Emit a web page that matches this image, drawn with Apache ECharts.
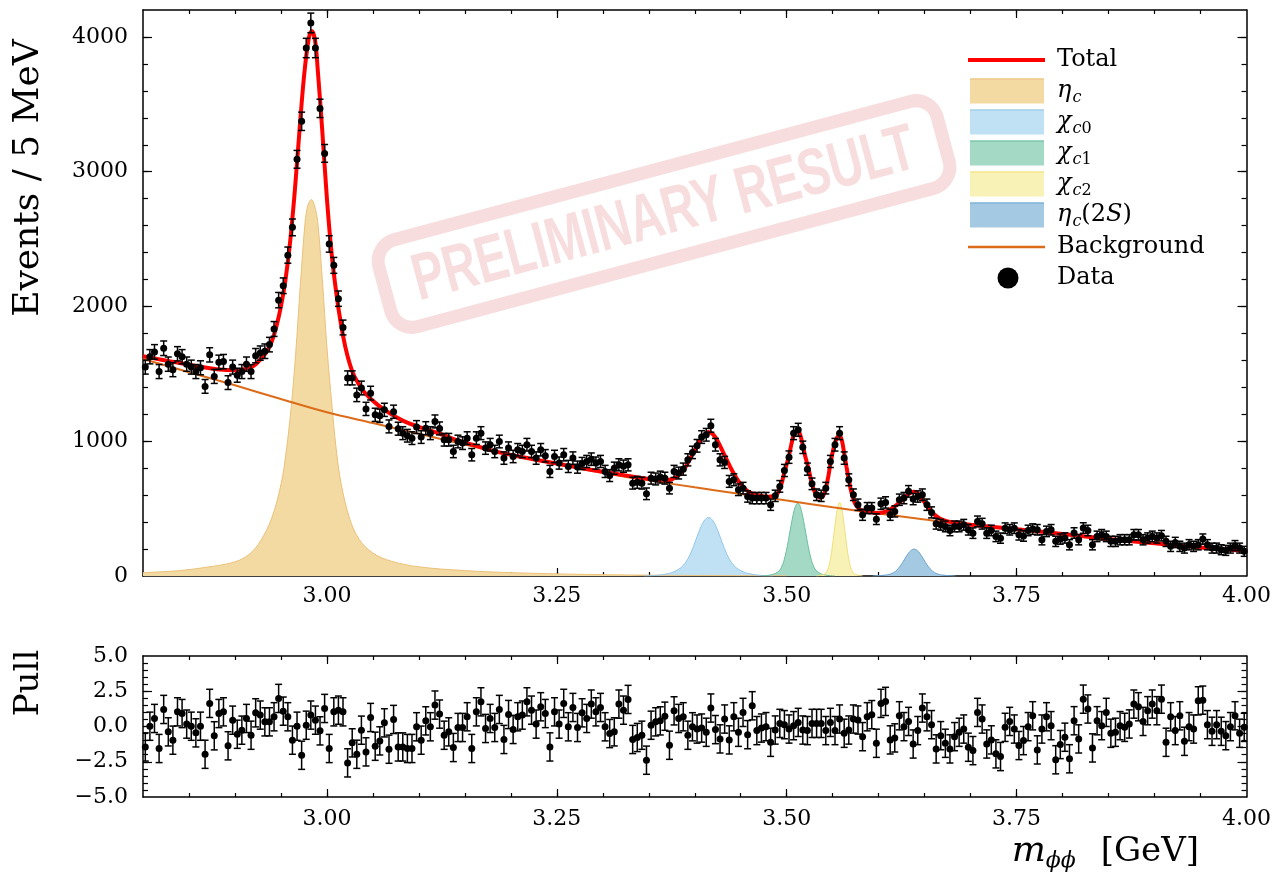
<!DOCTYPE html>
<html>
<head>
<meta charset="utf-8">
<script src="https://cdn.jsdelivr.net/npm/echarts@6/dist/echarts.min.js"></script>
<style>
  html, body { margin: 0; padding: 0; background: #fff; }
  #chart { width: 1274px; height: 877px; }
</style>
</head>
<body>
<div id="chart"></div>
<script>
// Histogram binning: 5 MeV bins from 2.80 GeV
const binStart = 2.80;
const binWidth = 0.005;

// Events per bin
const counts = [
  1550,1627,1663,1517,1690,1572,1531,1649,1627,1572,
  1550,1517,1545,1407,1641,1481,1586,1591,1435,1550,
  1490,1517,1572,1517,1635,1654,1668,1717,1833,2047,
  2154,2381,2587,3092,3374,3918,4104,3918,3470,3136,
  2464,2305,2058,1844,1470,1470,1344,1395,1240,1357,
  1196,1189,1233,1110,1219,1093,1060,1041,1023,1105,
  1031,1097,1060,1147,1095,1011,1011,924,998,986,
  1023,900,1023,1060,949,974,924,998,875,949,
  887,937,924,974,924,875,937,892,776,887,
  838,900,813,875,808,835,850,867,838,850,
  776,745,800,825,815,825,689,695,689,610,
  726,720,734,726,652,776,764,793,862,917,
  966,1031,1048,1115,974,862,843,702,714,640,
  652,590,578,578,578,578,529,595,665,783,
  882,1060,1085,955,793,684,603,595,652,850,
  974,1060,875,714,603,529,454,504,504,422,
  536,546,454,479,566,578,628,571,590,603,
  529,472,388,380,368,338,368,368,380,343,
  318,405,388,318,338,294,281,355,343,355,
  306,297,338,348,343,269,331,343,257,274,
  282,232,319,269,356,338,232,294,306,294,
  257,257,269,269,269,306,306,269,282,294,
  282,299,257,220,249,220,207,232,220,232,
  274,232,207,207,195,190,207,225,207,183
];

// Uncertainty on each bin
const countErr = [
  52,53,54,52,54,53,52,53,53,53,
  52,52,52,51,53,52,53,53,51,52,
  52,52,53,52,53,53,54,54,55,57,
  58,60,62,66,68,72,73,72,68,66,
  61,59,57,55,52,52,50,51,49,51,
  49,49,49,48,49,48,48,47,47,48,
  47,48,48,48,48,47,47,46,47,47,
  47,46,47,48,46,47,46,47,46,46,
  46,46,46,47,46,46,46,46,45,46,
  45,46,45,46,45,45,45,46,45,45,
  45,44,45,45,45,45,44,44,44,43,
  44,44,44,44,43,45,44,45,45,46,
  47,47,47,48,47,45,45,44,44,43,
  43,42,42,42,42,42,42,42,43,45,
  46,48,48,46,45,43,43,42,43,45,
  47,48,46,44,43,42,41,41,41,40,
  42,42,41,41,42,42,43,42,42,43,
  42,41,40,40,40,39,40,40,40,39,
  39,40,40,39,39,39,38,39,39,39,
  39,39,39,39,39,38,39,39,38,38,
  38,38,39,38,39,39,38,39,39,39,
  38,38,38,38,38,39,39,38,38,39,
  38,39,38,38,38,38,37,38,38,38,
  38,38,37,37,37,37,37,38,37,37
];

// Pull of each bin relative to the total fit
const pulls = [
  -1.45,0.02,0.57,-1.56,1.21,-0.38,-0.97,1.04,0.92,0.17,
  0.02,-0.45,0.02,-1.97,1.64,-0.66,0.92,1.04,-1.37,0.45,
  -0.55,-0.26,0.57,-0.62,0.97,0.81,0.33,0.33,0.69,1.99,
  1.09,0.69,-0.97,0.02,-2.04,0.09,0.81,0.45,-0.31,1.28,
  -1.56,1.04,1.16,1.04,-2.58,-1.16,-1.97,-0.26,-1.80,0.64,
  -1.40,-1.02,0.26,-1.61,0.50,-1.45,-1.45,-1.56,-1.56,-0.02,
  -0.97,0.40,-0.02,1.52,0.88,-0.62,-0.38,-1.49,-0.07,-0.07,
  0.69,-1.56,1.04,1.75,-0.14,0.57,-0.07,1.21,-0.92,0.85,
  -0.21,0.69,0.81,1.75,1.16,0.17,1.40,0.92,-1.45,1.04,
  0.17,1.64,-0.02,1.35,-0.07,0.97,0.57,1.59,1.04,1.35,
  -0.02,-0.50,-0.38,1.59,1.16,1.92,-0.92,-0.78,-0.62,-2.39,
  0.09,0.33,0.40,0.73,-1.33,1.11,0.57,0.69,-0.62,-0.02,
  -0.18,-0.11,-0.41,1.31,-0.22,-0.88,0.53,-0.95,0.69,-0.41,
  1.00,-0.58,1.47,-0.29,-0.11,-0.01,-1.12,-0.25,0.22,0.13,
  -0.18,0.06,0.29,-0.25,-0.29,0.22,0.22,0.22,-0.29,0.29,
  -0.29,0.53,-0.48,-0.25,0.53,0.46,-0.72,0.69,0.84,-1.19,
  1.64,1.78,-0.95,-0.81,0.76,-0.01,0.36,-1.24,-0.29,1.31,
  0.69,0.13,-1.59,-0.65,-1.19,-1.59,-0.72,-0.41,-0.18,-1.47,
  -1.71,1.00,0.53,-1.24,-0.95,-1.94,-2.13,-0.06,0.36,-0.18,
  -1.35,-1.00,-0.01,0.76,-1.66,-0.18,0.69,0.06,-2.36,-1.28,
  -0.76,-2.29,0.41,-0.88,1.94,1.24,-1.52,0.41,0.06,1.00,
  -0.48,-0.41,0.06,-0.06,0.18,1.59,1.40,0.36,1.12,1.59,
  1.12,1.94,-1.12,0.69,-0.29,0.76,-1.05,-0.01,-0.18,1.82,
  1.87,0.13,-0.34,0.13,-0.34,-0.65,-0.01,0.76,-0.48,-0.06
];

// Fit curves: [mass (GeV), events / 5 MeV]
const totalFit = [
  [2.80,1630],[2.82,1605],[2.84,1580],[2.86,1555],[2.88,1535],[2.90,1527],[2.91,1535],
  [2.92,1558],[2.93,1625],[2.935,1670],[2.94,1740],[2.945,1850],[2.95,2000],[2.955,2200],
  [2.96,2480],[2.965,2850],[2.97,3290],[2.975,3700],[2.98,3980],[2.9835,4045],[2.987,3980],
  [2.99,3760],[2.995,3300],[3.00,2800],[3.005,2400],[3.01,2110],[3.015,1880],[3.02,1700],
  [3.025,1570],[3.03,1480],[3.04,1370],[3.05,1300],[3.06,1245],[3.075,1180],[3.09,1130],
  [3.1075,1090],[3.125,1050],[3.14,1010],[3.16,970],[3.18,930],[3.21,885],[3.25,835],
  [3.285,790],[3.32,752],[3.35,720],[3.37,712],[3.375,718],[3.38,735],[3.385,765],[3.39,810],
  [3.395,870],[3.40,935],[3.405,995],[3.41,1045],[3.415,1068],[3.42,1050],[3.425,1000],
  [3.43,930],[3.435,860],[3.44,790],[3.445,730],[3.45,680],[3.455,645],[3.46,620],[3.47,598],
  [3.48,588],[3.485,592],[3.49,612],[3.4925,650],[3.495,700],[3.4975,770],[3.50,830],
  [3.5025,895],[3.505,975],[3.5075,1045],[3.51,1075],[3.5125,1075],[3.515,1040],[3.5175,970],
  [3.52,890],[3.5225,830],[3.525,760],[3.5275,680],[3.53,630],[3.5325,598],[3.535,585],
  [3.5375,582],[3.54,600],[3.5425,650],[3.545,730],[3.5475,830],[3.55,920],[3.5525,990],
  [3.555,1030],[3.5575,1040],[3.56,1005],[3.5625,910],[3.565,810],[3.5675,715],[3.57,630],
  [3.5725,570],[3.575,530],[3.58,492],[3.59,474],[3.60,468],[3.605,472],[3.61,485],[3.615,505],
  [3.62,530],[3.625,560],[3.63,595],[3.635,618],[3.6385,625],[3.642,615],[3.647,575],
  [3.652,525],[3.657,480],[3.662,448],[3.667,425],[3.675,405],[3.69,390],[3.70,380],
  [3.75,347],[3.80,312],[3.85,275],[3.90,243],[3.95,212],[4.00,185]
];
const bkgFit = [
  [2.80,1610],[2.85,1512],[2.90,1415],[2.95,1313],[3.00,1215],[3.05,1135],[3.10,1055],
  [3.15,975],[3.20,900],[3.25,830],[3.30,765],[3.35,710],[3.40,658],[3.45,608],[3.50,560],
  [3.55,510],[3.60,463],[3.65,420],[3.70,378],[3.75,345],[3.80,310],[3.85,274],[3.90,243],
  [3.95,212],[4.00,184]
];
const etaC = [
  [2.80,25],[2.84,40],[2.87,66],[2.89,88],[2.905,118],[2.917,170],[2.928,262],[2.94,430],
  [2.9504,690],[2.956,940],[2.9612,1256],[2.966,1650],[2.971,2150],[2.9763,2628],[2.9795,2755],
  [2.9832,2793],[2.9865,2750],[2.990,2628],[2.995,2200],[3.000,1700],[3.0056,1256],[3.010,950],
  [3.0153,690],[3.025,420],[3.0353,270],[3.05,170],[3.07,110],[3.10,68],[3.15,40],[3.20,25],
  [3.28,12],[3.38,5],[3.50,2]
];
const chiC0 = [
  [3.345,0],[3.355,3],[3.36,6],[3.365,10],[3.37,16],[3.375,25],[3.38,40],[3.385,62],[3.39,100],
  [3.395,160],[3.40,245],[3.405,337],[3.41,408],[3.415,435],[3.42,408],[3.425,337],[3.43,245],
  [3.435,160],[3.44,100],[3.445,62],[3.45,40],[3.455,25],[3.46,16],[3.465,10],[3.47,6],
  [3.475,3],[3.485,0]
];
const chiC1 = [
  [3.472,0],[3.478,3],[3.482,7],[3.487,17],[3.492,40],[3.4945,68],[3.497,114],[3.4995,183],
  [3.502,271],[3.5045,367],[3.507,455],[3.5095,518],[3.512,541],[3.5145,518],[3.517,455],
  [3.5195,367],[3.522,271],[3.5245,183],[3.527,114],[3.5295,68],[3.532,40],[3.537,17],
  [3.542,7],[3.546,3],[3.552,0]
];
const chiC2 = [
  [3.5325,0],[3.5355,3],[3.5385,8],[3.5415,16],[3.5435,32],[3.5455,64],[3.5475,123],[3.5495,211],
  [3.5515,320],[3.5535,430],[3.5555,514],[3.5575,546],[3.5595,514],[3.5615,430],[3.5635,320],
  [3.5655,211],[3.5675,123],[3.5695,64],[3.5715,32],[3.5735,16],[3.5765,8],[3.5795,3],[3.5825,0]
];
const etaC2S = [
  [3.5935,0],[3.5985,2],[3.6035,4],[3.6085,8],[3.6135,16],[3.6185,36],[3.6235,74],[3.6285,128],
  [3.6335,179],[3.6385,200],[3.6435,179],[3.6485,128],[3.6535,74],[3.6585,36],[3.6635,16],
  [3.6685,8],[3.6735,4],[3.6785,2],[3.6835,0]
];

// Axis ticks and labels
const xLabels = [3.00, 3.25, 3.50, 3.75, 4.00];
const xMajorTicks = [3.00, 3.25, 3.50, 3.75];
const xMinorTicks = [2.85,2.90,2.95,3.00,3.05,3.10,3.15,3.20,3.25,3.30,3.35,3.40,3.45,3.50,3.55,3.60,3.65,3.70,3.75,3.80,3.85,3.90,3.95];
const yLabels = [0, 1000, 2000, 3000, 4000];
const yMajorTicks = [1000, 2000, 3000, 4000];
const yMinorTicks = [200,400,600,800,1000,1200,1400,1600,1800,2000,2200,2400,2600,2800,3000,3200,3400,3600,3800,4000];
const pullLabels = [-5, -2.5, 0, 2.5, 5];
const pullMajorTicks = [-2.5, 0, 2.5];
const pullMinorTicks = [-4.5,-4,-3.5,-3,-2.5,-2,-1.5,-1,-0.5,0,0.5,1,1.5,2,2.5,3,3.5,4,4.5];

const FONT = 'DejaVu Serif';
const COLORS = {
  total: '#ff0000',
  bkg: '#dc6c1a',
  etaC: ['#f3d9a2', '#eac27a'],
  chiC0: ['#c0e0f4', '#92c6ea'],
  chiC1: ['#a3d9c5', '#6cbf9f'],
  chiC2: ['#f9f2b7', '#eedf78'],
  etaC2S: ['#a4c9e2', '#6ea7cf']
};

// Build point and error-bar tables from the bins
const dataPoints = counts.map((v, i) => [binStart + binWidth * (i + 0.5), v]);
const dataBars = counts.map((v, i) => [binStart + binWidth * (i + 0.5), v - countErr[i], v + countErr[i]]);
const pullPoints = pulls.map((v, i) => [binStart + binWidth * (i + 0.5), v]);
const pullBars = pulls.map((v, i) => [binStart + binWidth * (i + 0.5), v - 1, v + 1]);

function xAxisDef(grid, pos, ticks, len, labels, line) {
  return {
    type: 'value', gridIndex: grid, position: pos, min: 2.8, max: 4.0,
    axisLine: { show: line, onZero: false, lineStyle: { color: '#000', width: 1.5 } },
    axisTick: { show: true, inside: true, length: len, customValues: ticks, lineStyle: { color: '#000', width: 1.2 } },
    axisLabel: labels ? {
      show: true, customValues: labels, formatter: v => v.toFixed(2),
      margin: grid === 0 ? 9 : 11, color: '#000', fontFamily: FONT, fontSize: 22
    } : { show: false },
    splitLine: { show: false }
  };
}
function yAxisDef(grid, pos, min, max, ticks, len, labels, fmt, line) {
  return {
    type: 'value', gridIndex: grid, position: pos, min: min, max: max,
    axisLine: { show: line, onZero: false, lineStyle: { color: '#000', width: 1.5 } },
    axisTick: { show: true, inside: true, length: len, customValues: ticks, lineStyle: { color: '#000', width: 1.2 } },
    axisLabel: labels ? {
      show: true, customValues: labels, formatter: fmt,
      margin: 15, color: '#000', fontFamily: FONT, fontSize: 22
    } : { show: false },
    splitLine: { show: false }
  };
}

function errorBarRenderer(capHalf) {
  return function (params, api) {
    const x = api.value(0);
    const p0 = api.coord([x, api.value(1)]);
    const p1 = api.coord([x, api.value(2)]);
    const style = { stroke: '#000', lineWidth: 1.5 };
    return {
      type: 'group',
      children: [
        { type: 'line', shape: { x1: p0[0], y1: p0[1], x2: p1[0], y2: p1[1] }, style: style },
        { type: 'line', shape: { x1: p0[0] - capHalf, y1: p0[1], x2: p0[0] + capHalf, y2: p0[1] }, style: style },
        { type: 'line', shape: { x1: p1[0] - capHalf, y1: p1[1], x2: p1[0] + capHalf, y2: p1[1] }, style: style }
      ]
    };
  };
}

function component(name, points, colors) {
  return {
    name: name, type: 'line', xAxisIndex: 0, yAxisIndex: 0, data: points,
    smooth: 0.35, symbol: 'none', z: 1, silent: true,
    lineStyle: { color: colors[1], width: 1 },
    itemStyle: { color: colors[0] },
    areaStyle: { color: colors[0], opacity: 1 }
  };
}

// Legend rows, drawn as graphic elements
const RICH = {
  g: { fontFamily: FONT, fontStyle: 'italic', fontSize: 24, lineHeight: 31 },
  n: { fontFamily: FONT, fontSize: 24, lineHeight: 31 },
  s: { fontFamily: FONT, fontStyle: 'italic', fontSize: 16, lineHeight: 17, padding: [14, 0, 0, 1], verticalAlign: 'top' },
  r: { fontFamily: FONT, fontSize: 16, lineHeight: 17, padding: [14, 0, 0, 0], verticalAlign: 'top' }
};
const legendRows = [
  { y: 60, label: '{n|Total}', icon: 'line', color: COLORS.total, width: 4 },
  { y: 91, label: '{g|η}{s|c}', icon: 'box', colors: COLORS.etaC },
  { y: 122, label: '{g|χ}{s|c}{r|0}', icon: 'box', colors: COLORS.chiC0 },
  { y: 153, label: '{g|χ}{s|c}{r|1}', icon: 'box', colors: COLORS.chiC1 },
  { y: 184, label: '{g|χ}{s|c}{r|2}', icon: 'box', colors: COLORS.chiC2 },
  { y: 215, label: '{g|η}{s|c}{n|(2}{g|S}{n|)}', icon: 'box', colors: COLORS.etaC2S },
  { y: 247, label: '{n|Background}', icon: 'line', color: COLORS.bkg, width: 2.5 },
  { y: 278, label: '{n|Data}', icon: 'dot', color: '#000' }
];
const legendGraphics = [];
legendRows.forEach(row => {
  if (row.icon === 'line') {
    legendGraphics.push({ type: 'line', silent: true, shape: { x1: 968, y1: row.y, x2: 1045, y2: row.y },
      style: { stroke: row.color, lineWidth: row.width } });
  } else if (row.icon === 'box') {
    legendGraphics.push({ type: 'rect', silent: true, shape: { x: 970, y: row.y - 12.5, width: 74, height: 25 },
      style: { fill: row.colors[0] } });
    legendGraphics.push({ type: 'line', silent: true, shape: { x1: 970, y1: row.y - 12, x2: 1044, y2: row.y - 12 },
      style: { stroke: row.colors[1], lineWidth: 1.2 } });
  } else {
    legendGraphics.push({ type: 'circle', silent: true, shape: { cx: 1008, cy: row.y, r: 10.5 },
      style: { fill: row.color } });
  }
  legendGraphics.push({ type: 'text', silent: true, x: 1057, y: row.y,
    style: { text: row.label, rich: RICH, fill: '#000', align: 'left', verticalAlign: 'middle' } });
});

const chart = echarts.init(document.getElementById('chart'), null, { renderer: 'canvas' });
chart.setOption({
  animation: false,
  backgroundColor: '#fff',
  grid: [
    { left: 143, top: 10, width: 1107, height: 566 },
    { left: 143, top: 656, width: 1107, height: 141 }
  ],
  xAxis: [
    xAxisDef(0, 'bottom', xMajorTicks, 8, xLabels, true),
    xAxisDef(0, 'bottom', xMinorTicks, 4, null, false),
    xAxisDef(0, 'top', xMajorTicks, 8, null, true),
    xAxisDef(0, 'top', xMinorTicks, 4, null, false),
    xAxisDef(1, 'bottom', xMajorTicks, 8, xLabels, true),
    xAxisDef(1, 'bottom', xMinorTicks, 4, null, false),
    xAxisDef(1, 'top', xMajorTicks, 8, null, true),
    xAxisDef(1, 'top', xMinorTicks, 4, null, false)
  ],
  yAxis: [
    yAxisDef(0, 'left', 0, 4200, yMajorTicks, 9, yLabels, v => String(v), true),
    yAxisDef(0, 'left', 0, 4200, yMinorTicks, 5, null, null, false),
    yAxisDef(0, 'right', 0, 4200, yMajorTicks, 9, null, null, true),
    yAxisDef(0, 'right', 0, 4200, yMinorTicks, 5, null, null, false),
    yAxisDef(1, 'left', -5, 5, pullMajorTicks, 9, pullLabels, v => (v < 0 ? '\u2212' : '') + Math.abs(v).toFixed(1), true),
    yAxisDef(1, 'left', -5, 5, pullMinorTicks, 5, null, null, false),
    yAxisDef(1, 'right', -5, 5, pullMajorTicks, 9, null, null, true),
    yAxisDef(1, 'right', -5, 5, pullMinorTicks, 5, null, null, false)
  ],
  graphic: [
    {
      type: 'group', x: 664, y: 214, rotation: 15 * Math.PI / 180, z: 0, silent: true,
      children: [
        {
          type: 'rect', shape: { x: -289, y: -45, width: 578, height: 90, r: 22 },
          style: { fill: 'none', stroke: 'rgba(220,100,100,0.22)', lineWidth: 13 }
        },
        {
          type: 'text', x: 0, y: 2, scaleX: 0.71,
          style: {
            text: 'PRELIMINARY RESULT', align: 'center', verticalAlign: 'middle',
            fontFamily: 'Liberation Sans', fontWeight: 'bold', fontSize: 66,
            fill: 'rgba(220,100,100,0.22)'
          }
        }
      ]
    },
    {
      type: 'text', x: 29, y: 178, rotation: Math.PI / 2, silent: true,
      style: { text: 'Events / 5 MeV', fontFamily: FONT, fontSize: 36, fill: '#000', align: 'center', verticalAlign: 'middle' }
    },
    {
      type: 'text', x: 29, y: 683, rotation: Math.PI / 2, silent: true,
      style: { text: 'Pull', fontFamily: FONT, fontSize: 34, fill: '#000', align: 'center', verticalAlign: 'middle' }
    },
    {
      type: 'text', x: 1199, y: 852, silent: true,
      style: {
        text: '{m|m}{s|ϕϕ}{n| [GeV]}', align: 'right', verticalAlign: 'middle',
        rich: {
          m: { fontFamily: FONT, fontStyle: 'italic', fontSize: 36, lineHeight: 44 },
          s: { fontFamily: FONT, fontStyle: 'italic', fontSize: 22, lineHeight: 24, padding: [20, 14, 0, 0], verticalAlign: 'top' },
          n: { fontFamily: FONT, fontSize: 34, lineHeight: 44 }
        }
      }
    }
  ].concat(legendGraphics),
  series: [
    component('etac', etaC, COLORS.etaC),
    component('chic0', chiC0, COLORS.chiC0),
    component('chic1', chiC1, COLORS.chiC1),
    component('chic2', chiC2, COLORS.chiC2),
    component('etac2s', etaC2S, COLORS.etaC2S),
    {
      name: 'bkg', type: 'line', xAxisIndex: 0, yAxisIndex: 0, data: bkgFit,
      smooth: 0.35, symbol: 'none', z: 2, silent: true,
      lineStyle: { color: COLORS.bkg, width: 2 }
    },
    {
      name: 'total', type: 'line', xAxisIndex: 0, yAxisIndex: 0, data: totalFit,
      smooth: 0.35, symbol: 'none', z: 3, silent: true,
      lineStyle: { color: COLORS.total, width: 4 }
    },
    {
      name: 'dataErr', type: 'custom', xAxisIndex: 0, yAxisIndex: 0, data: dataBars,
      renderItem: errorBarRenderer(3.5), encode: { x: 0, y: [1, 2] }, z: 4, silent: true, clip: true
    },
    {
      name: 'data', type: 'scatter', xAxisIndex: 0, yAxisIndex: 0, data: dataPoints,
      symbol: 'circle', symbolSize: 7, itemStyle: { color: '#000', opacity: 1 }, z: 5, silent: true
    },
    {
      name: 'pullErr', type: 'custom', xAxisIndex: 4, yAxisIndex: 4, data: pullBars,
      renderItem: errorBarRenderer(3.5), encode: { x: 0, y: [1, 2] }, z: 4, silent: true, clip: true
    },
    {
      name: 'pull', type: 'scatter', xAxisIndex: 4, yAxisIndex: 4, data: pullPoints,
      symbol: 'circle', symbolSize: 7, itemStyle: { color: '#000', opacity: 1 }, z: 5, silent: true
    }
  ]
});
</script>
</body>
</html>
